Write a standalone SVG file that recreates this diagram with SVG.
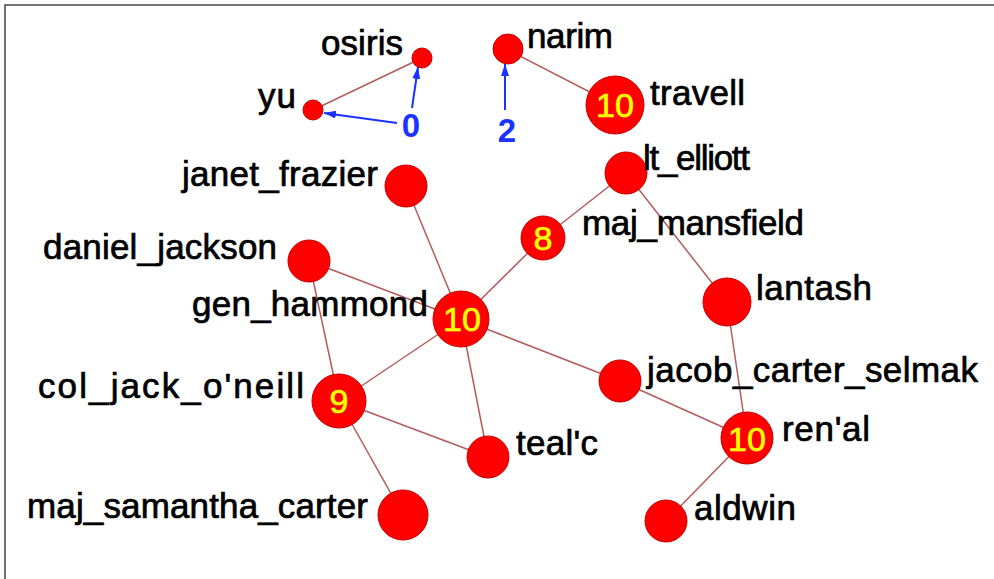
<svg xmlns="http://www.w3.org/2000/svg" width="994" height="579" viewBox="0 0 994 579">
<style>
.n{fill:#ff0000;stroke:#c40000;stroke-width:1}
.e{stroke:#b35c5c;stroke-width:1.5;fill:none}
.a{stroke:#1a33ff;stroke-width:2;fill:none}
.l{font-family:"Liberation Sans",Arial,sans-serif;font-size:35px;fill:#000;stroke:#000;stroke-width:0.7}
.d{font-family:"Liberation Sans",Arial,sans-serif;font-size:34px;fill:#ffff00;stroke:#ffff00;stroke-width:0.7;text-anchor:middle}
.b{font-family:"Liberation Sans",Arial,sans-serif;font-size:33px;font-weight:bold;fill:#1a33ff;text-anchor:middle}
</style>
<defs>
<marker id="ah" viewBox="0 0 12 8" refX="12" refY="4" markerWidth="12" markerHeight="8" markerUnits="userSpaceOnUse" orient="auto">
<path d="M0,0 L12,4 L0,8 Z" fill="#1a33ff"/>
</marker>
</defs>
<rect width="994" height="579" fill="#ffffff"/>
<path d="M5,579 V5 H994" fill="none" stroke="#444" stroke-width="1.5"/>
<g id="connectors">
<line class="e" x1="313" y1="110" x2="422" y2="58"/>
<line class="e" x1="508" y1="50" x2="615" y2="105"/>
<line class="e" x1="406" y1="186" x2="461" y2="319"/>
<line class="e" x1="626" y1="173" x2="543" y2="238"/>
<line class="e" x1="626" y1="173" x2="727" y2="302"/>
<line class="e" x1="543" y1="238" x2="461" y2="319"/>
<line class="e" x1="309" y1="261" x2="461" y2="319"/>
<line class="e" x1="309" y1="261" x2="339" y2="401"/>
<line class="e" x1="461" y1="319" x2="339" y2="401"/>
<line class="e" x1="461" y1="319" x2="488" y2="457"/>
<line class="e" x1="461" y1="319" x2="620" y2="381"/>
<line class="e" x1="727" y1="302" x2="747" y2="438"/>
<line class="e" x1="620" y1="381" x2="747" y2="438"/>
<line class="e" x1="339" y1="401" x2="488" y2="457"/>
<line class="e" x1="339" y1="401" x2="403" y2="515"/>
<line class="e" x1="747" y1="438" x2="666" y2="521"/>
<line class="a" x1="397" y1="123" x2="324" y2="113" marker-end="url(#ah)"/>
<line class="a" x1="412" y1="108" x2="418" y2="67" marker-end="url(#ah)"/>
<line class="a" x1="505" y1="110" x2="505" y2="64" marker-end="url(#ah)"/>
<text class="b" x="411" y="137">0</text>
<text class="b" x="507" y="142">2</text>
</g>
<g id="osiris"><circle class="n" cx="422" cy="58" r="10"/><text class="l" x="321" y="55" textLength="82" lengthAdjust="spacing">osiris</text></g>
<g id="yu"><circle class="n" cx="313" cy="110" r="10"/><text class="l" x="258" y="108" textLength="38" lengthAdjust="spacing">yu</text></g>
<g id="narim"><circle class="n" cx="508" cy="49" r="15"/><text class="l" x="527" y="48" textLength="86" lengthAdjust="spacing">narim</text></g>
<g id="travell"><circle class="n" cx="615" cy="105" r="29"/><text class="d" x="615" y="117">10</text><text class="l" x="650" y="105" textLength="95" lengthAdjust="spacing">travell</text></g>
<g id="lt_elliott"><circle class="n" cx="626" cy="173" r="21"/><text class="l" x="643" y="170" textLength="107" lengthAdjust="spacing">lt_elliott</text></g>
<g id="janet_frazier"><circle class="n" cx="406" cy="186" r="21"/><text class="l" x="182" y="186" textLength="196" lengthAdjust="spacing">janet_frazier</text></g>
<g id="maj_mansfield"><circle class="n" cx="543" cy="238" r="22"/><text class="d" x="543" y="250">8</text><text class="l" x="582" y="235" textLength="222" lengthAdjust="spacing">maj_mansfield</text></g>
<g id="daniel_jackson"><circle class="n" cx="309" cy="261" r="21"/><text class="l" x="43" y="259" textLength="234" lengthAdjust="spacing">daniel_jackson</text></g>
<g id="lantash"><circle class="n" cx="727" cy="302" r="24"/><text class="l" x="756" y="300" textLength="116" lengthAdjust="spacing">lantash</text></g>
<g id="gen_hammond"><circle class="n" cx="461" cy="319" r="28"/><text class="d" x="462" y="331">10</text><text class="l" x="192" y="316" textLength="236" lengthAdjust="spacing">gen_hammond</text></g>
<g id="jacob_carter_selmak"><circle class="n" cx="620" cy="381" r="21"/><text class="l" x="647" y="382" textLength="331" lengthAdjust="spacing">jacob_carter_selmak</text></g>
<g id="col_jack_oneill"><circle class="n" cx="339" cy="401" r="27"/><text class="d" x="339" y="413">9</text><text class="l" x="38" y="398" textLength="266" lengthAdjust="spacing">col_jack_o'neill</text></g>
<g id="renal"><circle class="n" cx="747" cy="438" r="26"/><text class="d" x="747" y="451">10</text><text class="l" x="782" y="441" textLength="88" lengthAdjust="spacing">ren'al</text></g>
<g id="tealc"><circle class="n" cx="488" cy="457" r="21"/><text class="l" x="516" y="455" textLength="82" lengthAdjust="spacing">teal'c</text></g>
<g id="maj_samantha_carter"><circle class="n" cx="403" cy="515" r="25"/><text class="l" x="27" y="518" textLength="341" lengthAdjust="spacing">maj_samantha_carter</text></g>
<g id="aldwin"><circle class="n" cx="666" cy="521" r="21"/><text class="l" x="694" y="520" textLength="102" lengthAdjust="spacing">aldwin</text></g>
</svg>
